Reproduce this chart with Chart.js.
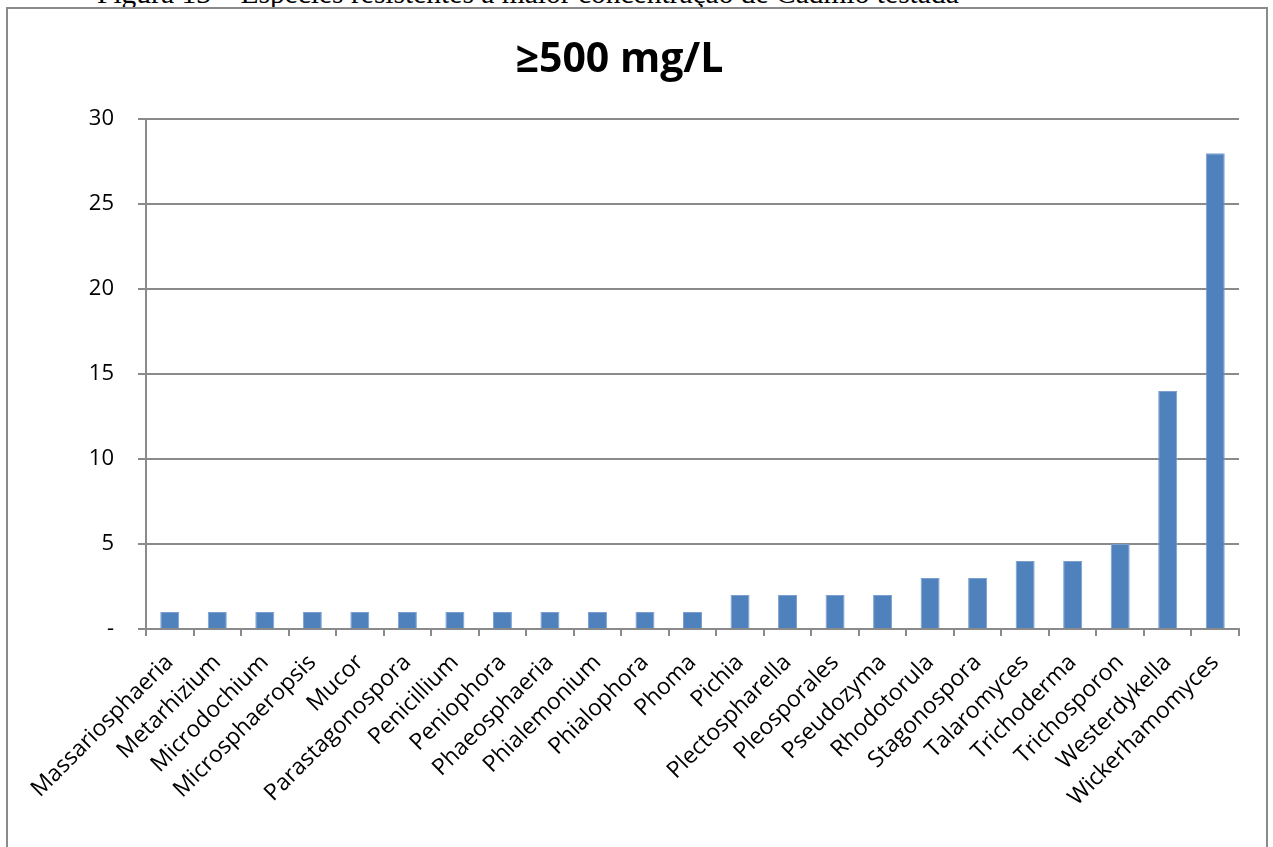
<!DOCTYPE html>
<html>
<head>
<meta charset="utf-8">
<script src="https://cdn.jsdelivr.net/npm/chart.js@4.4.1/dist/chart.umd.min.js"></script>
<style>
  html, body { margin: 0; padding: 0; background: #fff; overflow: hidden; }
  #wrap { position: absolute; left: 0; top: 0; width: 1273px; height: 847px; }
  #caption {
    position: absolute; left: 97px; white-space: nowrap;
    font-family: "Liberation Serif", "Times New Roman", serif; color: #000;
  }
  #frame {
    position: absolute; left: 6px; top: 7px; width: 1262px; height: 860px;
    border: 2px solid #8a8a8a; pointer-events: none; box-sizing: border-box;
  }
  #chartBox { position: absolute; left: 0; top: 0; width: 1273px; height: 847px; }
</style>
</head>
<body>
<div id="wrap">
  <div id="caption">Figura 13 – Espécies resistentes à maior concentração de Cádmio testada</div>
  <div id="chartBox"><canvas id="c"></canvas></div>
  <div id="frame"></div>
</div>
<script>
// Genera resistant at the highest cadmium concentration tested
const categories = [
  "Massariosphaeria", "Metarhizium", "Microdochium", "Microsphaeropsis", "Mucor",
  "Parastagonospora", "Penicillium", "Peniophora", "Phaeosphaeria", "Phialemonium",
  "Phialophora", "Phoma", "Pichia", "Plectospharella", "Pleosporales", "Pseudozyma",
  "Rhodotorula", "Stagonospora", "Talaromyces", "Trichoderma", "Trichosporon",
  "Westerdykella", "Wickerhamomyces"
];
const counts = [1, 1, 1, 1, 1, 1, 1, 1, 1, 1, 1, 1, 2, 2, 2, 2, 3, 3, 4, 4, 5, 14, 28];
const yTicks = [0, 5, 10, 15, 20, 25, 30];
const titleText = "≥500 mg/L";

// Caption sizing: fit the line to its span and sit its baseline near the top edge
(function () {
  const cap = document.getElementById('caption');
  const ctx = document.createElement('canvas').getContext('2d');
  ctx.font = '100px "Liberation Serif"';
  const w100 = ctx.measureText(cap.textContent).width;
  const size = 100 * 862 / w100;
  cap.style.fontSize = size + 'px';
  cap.style.lineHeight = size + 'px';
  cap.style.top = (4 - 0.8375 * size) + 'px';
})();

const AXIS = '#8a8a8a';
const FONT = '"Open Sans", "Liberation Sans", sans-serif';

new Chart(document.getElementById('c'), {
  type: 'bar',
  data: {
    labels: categories,
    datasets: [{
      data: counts,
      backgroundColor: '#4F81BD',
      borderColor: '#7a9fd0',
      borderWidth: 1,
      barPercentage: 0.4,
      categoryPercentage: 1.0
    }]
  },
  options: {
    responsive: true,
    maintainAspectRatio: false,
    animation: false,
    layout: { padding: { left: 0, right: 34, top: 0, bottom: 0 } },
    plugins: {
      legend: { display: false },
      tooltip: { enabled: false },
      title: {
        display: true,
        text: titleText,
        color: '#000',
        font: { family: FONT, size: 41, weight: 'bold', lineHeight: 1.2 },
        padding: { top: 36, bottom: 34 }
      }
    },
    scales: {
      x: {
        offset: true,
        grid: {
          display: true, drawOnChartArea: false, drawTicks: true,
          tickLength: 7, color: AXIS, lineWidth: 2, offset: true
        },
        border: { display: true, color: AXIS, width: 2 },
        ticks: {
          autoSkip: false, maxRotation: 45, minRotation: 45,
          color: '#000', padding: 13,
          font: { family: FONT, size: 23 }
        },
        afterFit: (s) => { s.height = 218; }
      },
      y: {
        min: 0, max: 30,
        afterBuildTicks: (s) => { s.ticks = yTicks.map(v => ({ value: v })); },
        grid: { color: AXIS, lineWidth: 2, tickLength: 8, drawTicks: true },
        border: { display: true, color: AXIS, width: 2 },
        ticks: {
          color: '#000', padding: 24,
          font: { family: FONT, size: 22 },
          callback: (v) => v === 0 ? '-' : String(v)
        },
        afterFit: (s) => { s.width = 146; }
      }
    }
  }
});
</script>
</body>
</html>
